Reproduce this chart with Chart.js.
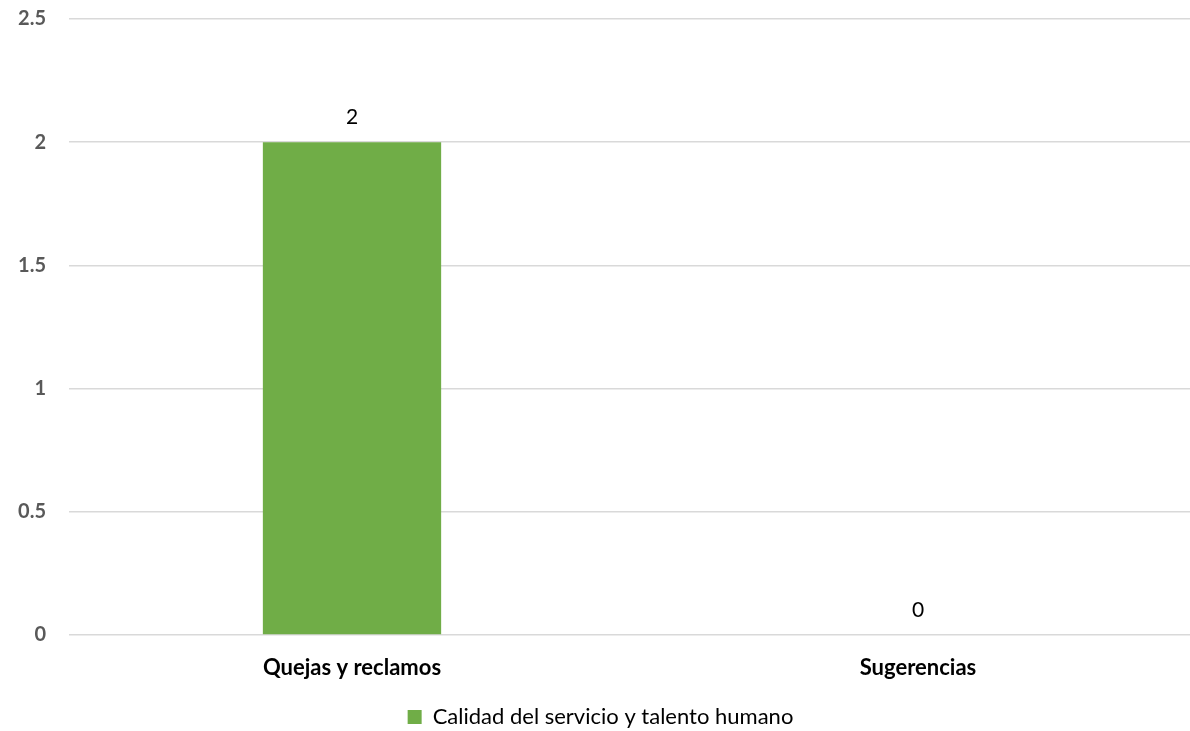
<!DOCTYPE html>
<html>
<head>
<meta charset="utf-8">
<script src="https://cdn.jsdelivr.net/npm/chart.js@4"></script>
<style>
  html, body { margin: 0; padding: 0; background: #fff; overflow: hidden; }
  #wrap { width: 1212px; height: 731px; }
</style>
</head>
<body>
<div id="wrap"><canvas id="chart"></canvas></div>
<script>
'use strict';
const categories = ['Quejas y reclamos', 'Sugerencias'];
const seriesName = 'Calidad del servicio y talento humano';
const values = [2, 0];
const yTicks = [0, 0.5, 1, 1.5, 2, 2.5];

const green = '#70AD47';
const font = 'Lato, "Open Sans", sans-serif';

// numbers over each bar
const valueLabels = {
  id: 'valueLabels',
  afterDatasetsDraw(chart) {
    const ctx = chart.ctx;
    const meta = chart.getDatasetMeta(0);
    ctx.save();
    ctx.font = '21px ' + font;
    ctx.fillStyle = '#000';
    ctx.textAlign = 'center';
    ctx.textBaseline = 'middle';
    meta.data.forEach((bar, i) => {
      ctx.fillText(String(values[i]), bar.x, bar.y - 25);
    });
    ctx.restore();
  }
};

const ctx = document.getElementById('chart').getContext('2d');
const chart = new Chart(ctx, {
  type: 'bar',
  data: {
    labels: categories,
    datasets: [{
      label: seriesName,
      data: values,
      backgroundColor: green,
      borderWidth: 0,
      barPercentage: 1,
      categoryPercentage: 0.315
    }]
  },
  options: {
    responsive: true,
    maintainAspectRatio: false,
    animation: false,
    layout: { padding: { top: 19, right: 11, bottom: -7, left: 0 } },
    plugins: {
      tooltip: { enabled: false },
      legend: {
        position: 'bottom',
        labels: {
          boxWidth: 14,
          boxHeight: 14,
          padding: 0,
          color: '#000',
          font: { family: font, size: 22 }
        }
      }
    },
    scales: {
      x: {
        grid: { display: false, drawTicks: false },
        border: { display: false },
        ticks: { padding: 20, color: '#000', font: { family: font, size: 22, weight: 'bold' } },
        afterFit(scale) { scale.height = 71; }
      },
      y: {
        min: 0,
        max: 2.5,
        afterBuildTicks(scale) { scale.ticks = yTicks.map(v => ({ value: v })); },
        grid: { color: '#d9d9d9', lineWidth: 1.5, drawTicks: false },
        border: { display: false },
        ticks: {
          padding: 23,
          color: '#595959',
          font: { family: font, size: 20, weight: 'bold' },
          callback: v => String(v)
        },
        afterFit(scale) {
          scale.width = 69;
          scale.paddingTop = 0;
          scale.paddingBottom = 0;
        }
      }
    }
  },
  plugins: [valueLabels]
});
</script>
</body>
</html>
